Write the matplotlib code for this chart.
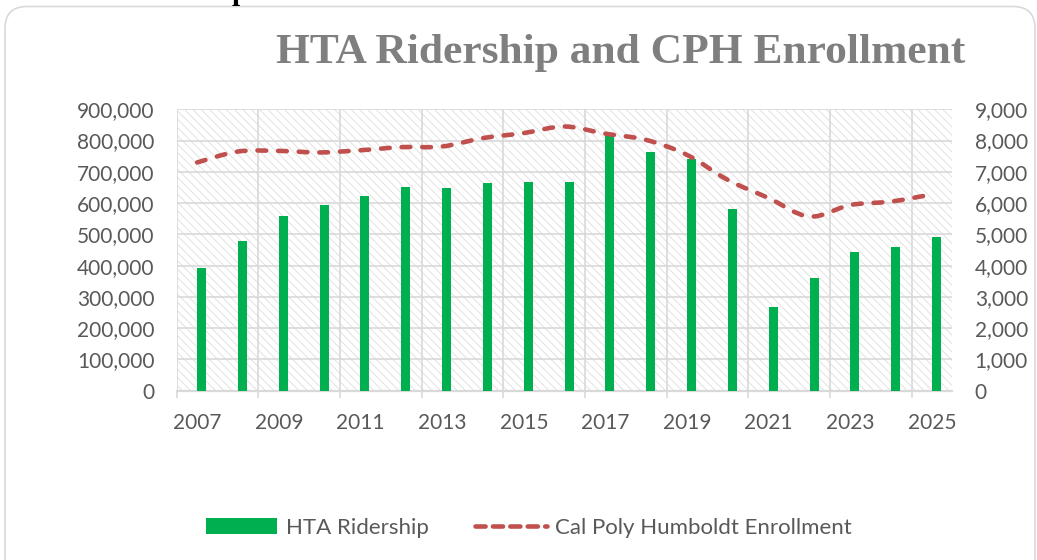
import numpy as np
import matplotlib
matplotlib.use('Agg')
import matplotlib.pyplot as plt
from matplotlib.path import Path
from matplotlib.patches import PathPatch, Patch, FancyBboxPatch
from matplotlib.lines import Line2D

years = list(range(2007, 2026))
ridership = [393000, 479000, 560000, 595000, 624000, 651000, 649000, 665000,
             669000, 669000, 814000, 764000, 741000, 581000, 269000, 360000,
             445000, 461000, 493000]
enrollment = [7300, 7650, 7670, 7620, 7690, 7790, 7810, 8080, 8240, 8450,
              8220, 8020, 7540, 6740, 6160, 5570, 5940, 6050, 6280]

GREEN = '#00b050'
RED = '#c0504d'
GRID = '#d9d9d9'
TEXT = '#595959'


def smooth_path(xs, ys, tension=1 / 6):
    # Excel-like smoothed line: Catmull-Rom turned into cubic Bezier segments
    pts = np.column_stack([xs, ys]).astype(float)
    verts = [pts[0]]
    codes = [Path.MOVETO]
    for i in range(len(pts) - 1):
        p0 = pts[i - 1] if i > 0 else pts[i]
        p1, p2 = pts[i], pts[i + 1]
        p3 = pts[i + 2] if i + 2 < len(pts) else pts[i + 1]
        verts += [p1 + (p2 - p0) * tension, p2 - (p3 - p1) * tension, p2]
        codes += [Path.CURVE4] * 3
    return Path(verts, codes)


plt.rcParams['font.family'] = ['Lato', 'DejaVu Sans']
plt.rcParams['hatch.linewidth'] = 0.7

fig = plt.figure(figsize=(10.37, 5.6), dpi=100)

# chart card outline
card = FancyBboxPatch((0.05, -0.5), 10.3, 6.035,
                      boxstyle='round,pad=0,rounding_size=0.22',
                      transform=fig.dpi_scale_trans, facecolor='white',
                      edgecolor=GRID, linewidth=1.2, zorder=-1)
fig.patches.append(card)

# tail of the heading above the chart
fig.text(240 / 1037, 1.0, 'p', ha='center', va='baseline', fontsize=21,
         fontweight='bold', family='Liberation Serif', color='black')

ax = fig.add_axes([0.1704, 0.3023, 0.7481, 0.5025])
x = np.arange(len(years))

ax.patch.set_facecolor('white')
ax.patch.set_hatch('\\\\\\\\')
ax.patch.set_edgecolor('#e2e2e2')
ax.patch.set_linewidth(0)

ax.bar(x + 0.11, ridership, width=0.22, color=GREEN, zorder=3)

ax.set_xlim(-0.5, len(years) - 0.5)
ax.set_ylim(0, 900000)
ax.set_yticks(np.arange(0, 900001, 100000))
ax.set_yticklabels(['{:,}'.format(v) for v in range(0, 900001, 100000)])
ax.set_xticks(x[::2])
ax.set_xticklabels([str(y) for y in years[::2]])
ax.set_xticks(np.arange(-0.5, len(years) - 1, 2), minor=True)

ax.set_axisbelow(True)
ax.grid(axis='y', which='major', color=GRID, linewidth=1.2)
ax.grid(axis='x', which='minor', color=GRID, linewidth=1.2)
ax.tick_params(axis='x', which='major', length=0, pad=16, labelsize=15,
               labelcolor=TEXT)
ax.tick_params(axis='x', which='minor', length=5, width=1.2, color=GRID)
ax.tick_params(axis='y', length=0, pad=16, labelsize=15, labelcolor=TEXT)
for side in ['left', 'right', 'top']:
    ax.spines[side].set_visible(False)
ax.spines['bottom'].set_color(GRID)
ax.spines['bottom'].set_linewidth(1.6)

ax2 = ax.twinx()
ax2.set_ylim(0, 9000)
ax2.set_yticks(np.arange(0, 9001, 1000))
ax2.set_yticklabels(['{:,}'.format(v) for v in range(0, 9001, 1000)])
ax2.tick_params(axis='y', length=0, pad=16, labelsize=15, labelcolor=TEXT)
for side in ax2.spines:
    ax2.spines[side].set_visible(False)

line = PathPatch(smooth_path(x, enrollment), fill=False, edgecolor=RED,
                 linewidth=3.3, linestyle=(0, (1.9, 2.6)), capstyle='round',
                 zorder=4)
ax2.add_patch(line)

fig.text(621 / 1037, 1 - 53 / 560, 'HTA Ridership and CPH Enrollment',
         ha='center', va='center', fontsize=31.3, fontweight='bold',
         family='Liberation Serif', color='#7f7f7f')

handles = [Patch(facecolor=GREEN, edgecolor='none'),
           Line2D([0], [0], color=RED, linewidth=3.3,
                  linestyle=(0, (2.2, 1.6)), dash_capstyle='round')]
fig.legend(handles, ['HTA Ridership', 'Cal Poly Humboldt Enrollment'],
           loc='center', bbox_to_anchor=(529 / 1037, 1 - 528 / 560),
           ncol=2, frameon=False, fontsize=16, labelcolor=TEXT,
           handlelength=3.2, handletextpad=0.4, columnspacing=2.1)

fig.savefig('out.png', dpi=100)
